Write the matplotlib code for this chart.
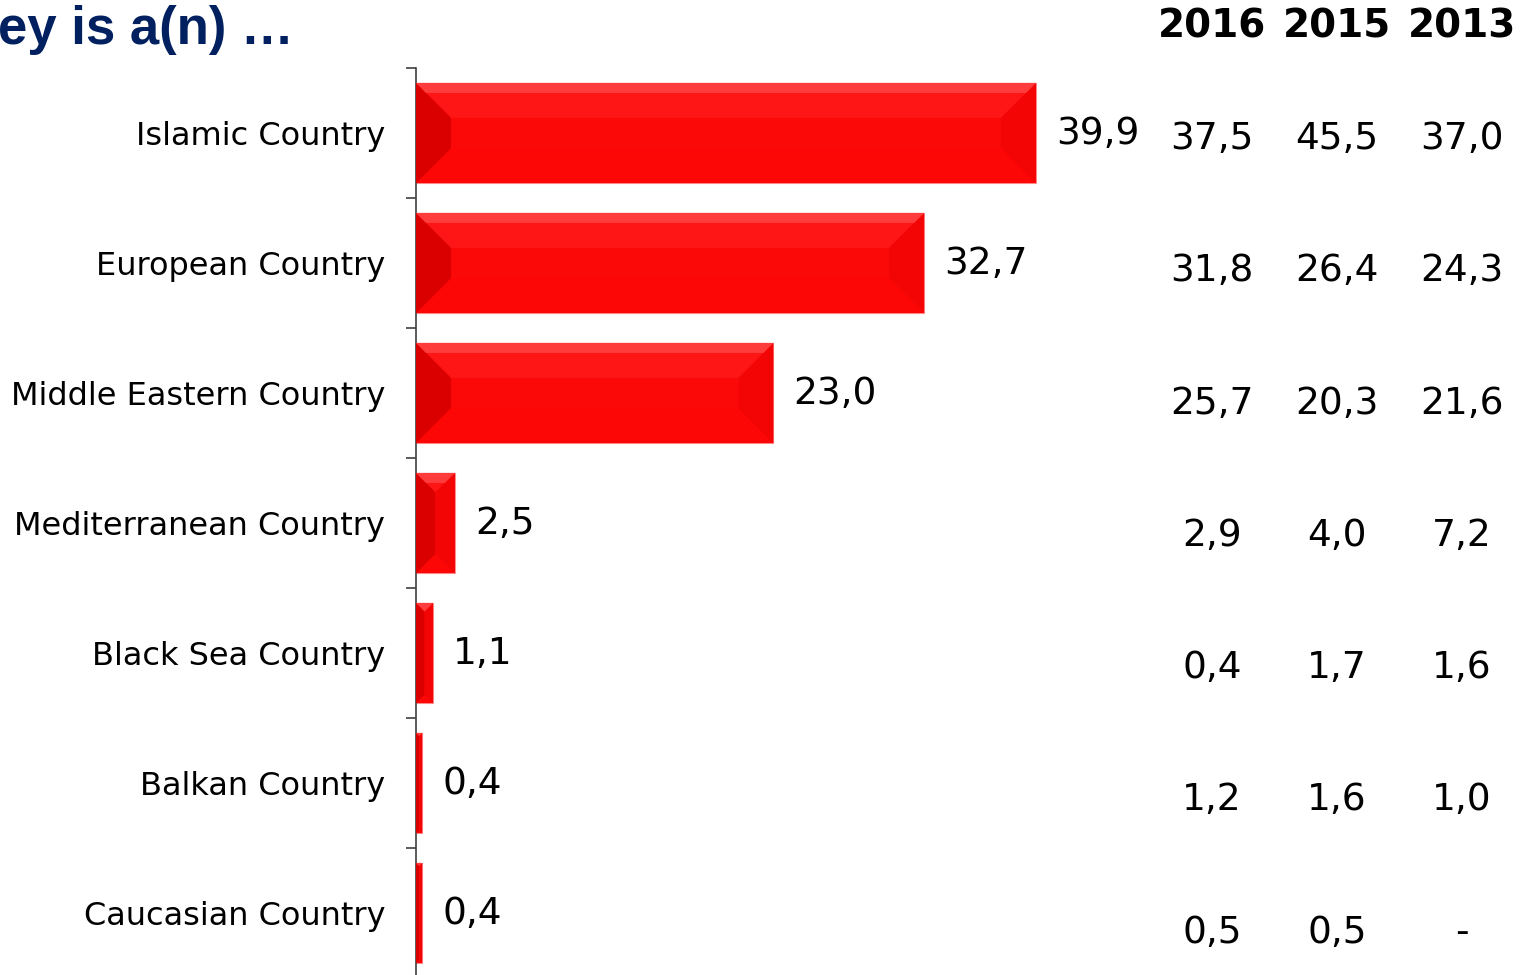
import matplotlib
matplotlib.use("Agg")
import matplotlib.pyplot as plt
from matplotlib.patches import Polygon

categories = ["Islamic Country", "European Country", "Middle Eastern Country",
              "Mediterranean Country", "Black Sea Country", "Balkan Country",
              "Caucasian Country"]
values = [39.9, 32.7, 23.0, 2.5, 1.1, 0.4, 0.4]
years = ["2016", "2015", "2013"]
v2016 = ["37,5", "31,8", "25,7", "2,9", "0,4", "1,2", "0,5"]
v2015 = ["45,5", "26,4", "20,3", "4,0", "1,7", "1,6", "0,5"]
v2013 = ["37,0", "24,3", "21,6", "7,2", "1,6", "1,0", "-"]

W, H = 1525, 975
fig = plt.figure(figsize=(15.25, 9.75), dpi=100)
px_per_unit = 15.54
ax_left = 416
ax = fig.add_axes([ax_left / W, -3 / H, (W - ax_left) / W, (978 - 68) / H])
ax.set_xlim(0, (W - ax_left) / px_per_unit)
ax.set_ylim(len(categories) - 0.5, -0.5)

# bevelled bars
h = 0.385
for i, v in enumerate(values):
    bx = min(35 / px_per_unit, v / 2)
    by = bx * px_per_unit / 130
    yt, yb = i - h, i + h
    ax.add_patch(Polygon([(0, yt), (v, yt), (v, yb), (0, yb)], closed=True,
                         facecolor="#fb0808", edgecolor="#ff9090", lw=0.8, zorder=2))
    faces = [
        ([(0, yt), (v, yt), (v - bx, yt + by), (bx, yt + by)], "#fe1616"),
        ([(0, yb), (v, yb), (v - bx, yb - by), (bx, yb - by)], "#fd0606"),
        ([(0, yt), (bx, yt + by), (bx, yb - by), (0, yb)], "#da0000"),
        ([(v, yt), (v - bx, yt + by), (v - bx, yb - by), (v, yb)], "#f30505"),
    ]
    for pts, col in faces:
        ax.add_patch(Polygon(pts, closed=True, facecolor=col, edgecolor="none", zorder=3))
    # light sheen along the top edge
    sh = min(by, 10 / 130)
    ax.add_patch(Polygon([(0, yt), (v, yt), (v - sh * 130 / px_per_unit, yt + sh),
                          (sh * 130 / px_per_unit, yt + sh)], closed=True,
                         facecolor="#ff3c3c", edgecolor="none", zorder=4))
    ax.annotate(f"{v:.1f}".replace(".", ","), (v, i), xytext=(20, -1),
                textcoords="offset pixels", va="center", ha="left",
                fontsize=27, color="black")

for s in ["top", "right", "bottom"]:
    ax.spines[s].set_visible(False)
ax.spines["left"].set_color("#404040")
ax.spines["left"].set_linewidth(1.2)
ax.set_xticks([])
ax.set_yticks([i - 0.5 for i in range(len(categories) + 1)])
ax.set_yticklabels([])
ax.tick_params(axis="y", which="major", length=7.5, width=1.2, color="#404040")
ax.set_yticks(range(len(categories)), minor=True)
ax.set_yticklabels(categories, minor=True, fontsize=23)
ax.tick_params(axis="y", which="minor", length=0, pad=22)
ax.set_facecolor("none")

# table of earlier years
col_x = [1212, 1337, 1462]
for j, (yr, col) in enumerate(zip(years, [v2016, v2015, v2013])):
    fig.text(col_x[j] / W, 1 - 27 / H, yr, ha="center", va="center",
             fontsize=28, fontweight="bold")
    for i, t in enumerate(col):
        fig.text(col_x[j] / W, 1 - (139 + 132.3 * i) / H, t, ha="center",
                 va="center", fontsize=27)

fig.text(-2 / W, 1 - 44 / H, "ey is a(n) …", ha="left", va="baseline",
         fontsize=38, fontweight="bold", color="#002060",
         family=["Liberation Sans", "DejaVu Sans"])

fig.savefig("out.png", dpi=100)
